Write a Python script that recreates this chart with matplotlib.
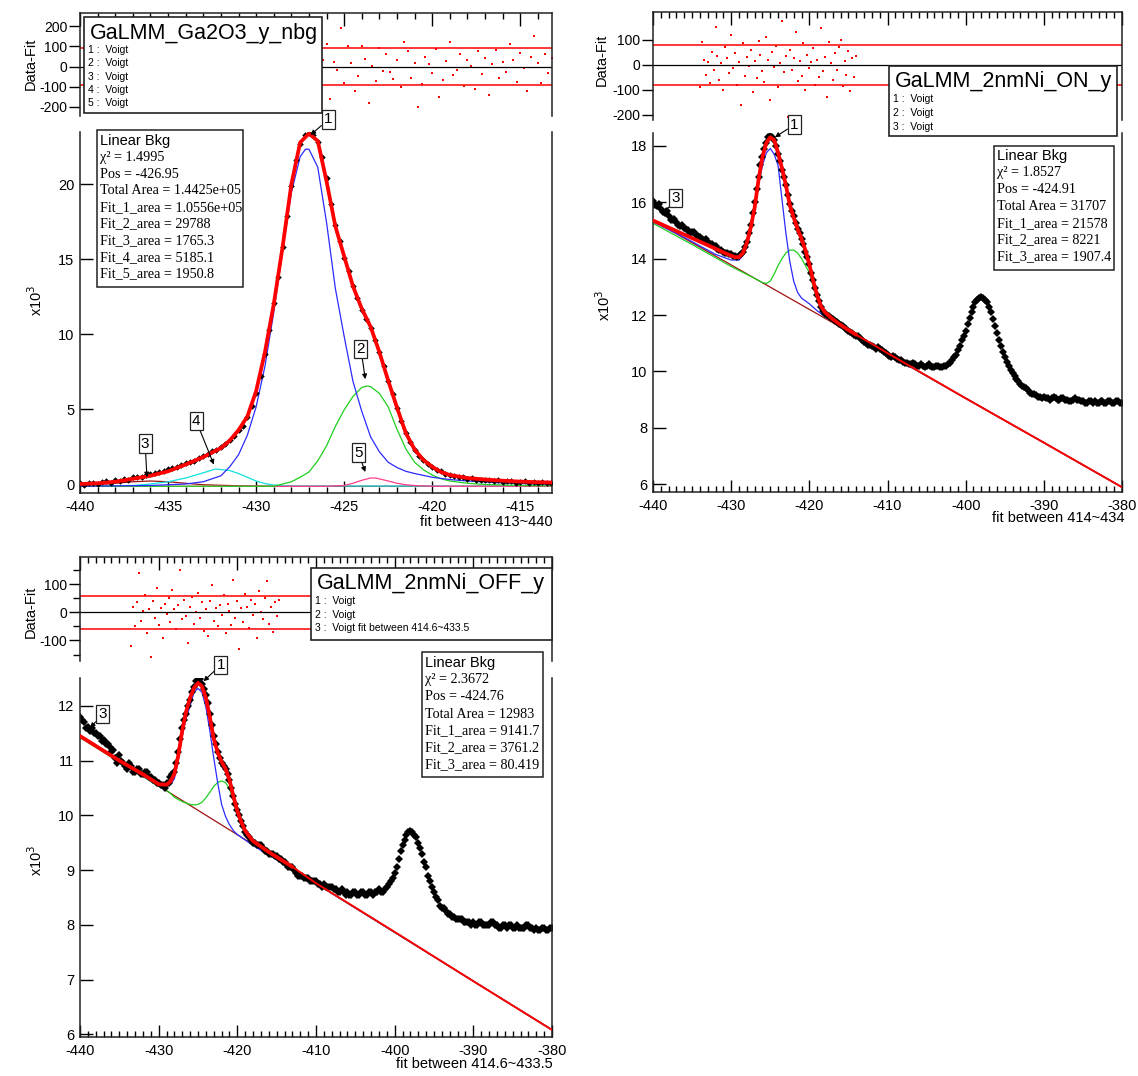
import numpy as np
import matplotlib
matplotlib.use("Agg")
from matplotlib import pyplot as plt
from matplotlib.patches import Rectangle
from matplotlib.ticker import MultipleLocator

plt.rcParams['font.family'] = ['Liberation Sans', 'DejaVu Sans']
plt.rcParams['axes.unicode_minus'] = False

W, H = 1138, 1076

# ---------------- panel 1 : GaLMM_Ga2O3_y_nbg (x10^3), points every 0.25 eV from -440 ----------------
p1_data_y = [0.1, -0.05, 0.05, 0.1, 0.0, 0.15, 0.2, 0.1, 0.25, 0.2, 0.35, 0.3, 0.45, 0.5, 0.45, 0.6,
             0.65, 0.75, 0.8, 0.85, 1.0, 1.1, 1.15, 1.3, 1.4, 1.5, 1.55, 1.75, 1.9, 2.0, 2.2, 2.3,
             2.5, 2.7, 2.95, 3.2, 3.6, 3.9, 4.5, 5.2, 6.1, 7.2, 8.7, 10.3, 12.1, 13.8, 15.8, 17.9,
             19.9, 21.6, 22.7, 23.3, 23.4, 23.3, 22.8, 21.8, 20.4, 18.7, 17.3, 16.2, 15.1, 14.2, 13.2, 12.4,
             11.6, 11.0, 10.4, 9.6, 8.8, 7.9, 6.9, 6.0, 5.1, 4.2, 3.4, 2.8, 2.3, 1.9, 1.6, 1.35,
             1.15, 0.95, 0.85, 0.7, 0.6, 0.55, 0.45, 0.45, 0.35, 0.4, 0.3, 0.3, 0.25, 0.3, 0.2, 0.25,
             0.15, 0.2, 0.2, 0.1, 0.15, 0.2, 0.1, 0.15, 0.1, 0.15, 0.05, 0.1]
p1_fit_x = [-440, -439, -438, -437, -436, -435, -434, -433, -432, -431.5, -431, -430.5, -430, -429.5,
            -429, -428.5, -428, -427.5, -427, -426.5, -426, -425.5, -425, -424.5, -424, -423.5, -423,
            -422.5, -422, -421.5, -421, -420.5, -420, -419.5, -419, -418, -417, -416, -415, -414, -413.2]
p1_fit_y = [0.0, 0.05, 0.15, 0.35, 0.55, 0.85, 1.3, 1.8, 2.4, 2.9, 3.6, 4.5, 6.2, 8.8,
            12.0, 15.8, 20.0, 22.8, 23.4, 22.9, 20.2, 17.2, 15.2, 13.2, 11.7, 10.5, 8.8,
            6.9, 5.1, 3.4, 2.3, 1.6, 1.15, 0.8, 0.6, 0.4, 0.3, 0.22, 0.16, 0.12, 0.1]
p1_bkg = -0.15
p1_c1_x = [-440, -436, -434, -433, -432, -431.5, -431, -430.5, -430, -429.5, -429, -428.5, -428, -427.5,
           -427.2, -427, -426.5, -426, -425.5, -425, -424.5, -424, -423.5, -423, -422.5, -422, -421.5,
           -421, -420, -419, -418, -416, -414, -413.2]
p1_c1_y = [0.0, 0.05, 0.15, 0.3, 0.7, 1.3, 2.1, 3.4, 5.3, 8.0, 11.6, 15.7, 19.6, 22.0,
           22.5, 22.5, 21.3, 17.6, 13.2, 10.0, 7.0, 5.0, 3.3, 2.3, 1.6, 1.25, 1.0,
           0.85, 0.6, 0.45, 0.35, 0.22, 0.15, 0.12]
p1_c2_x = [-440, -429, -428.5, -428, -427.5, -427, -426.5, -426, -425.5, -425, -424.5, -424, -423.7,
           -423.5, -423, -422.5, -422, -421.5, -421, -420.5, -420, -419.5, -419, -418, -417, -415, -413.2]
p1_c2_y = [0.0, 0.0, 0.15, 0.3, 0.6, 0.95, 1.7, 2.7, 4.0, 5.1, 6.0, 6.6, 6.7,
           6.65, 6.2, 5.3, 3.8, 2.5, 1.6, 1.1, 0.75, 0.5, 0.35, 0.2, 0.12, 0.05, 0.03]
p1_c3_x = [-440, -438, -437, -436, -435, -434, -433, -431, -429, -413.2]
p1_c3_y = [0.05, 0.2, 0.3, 0.35, 0.3, 0.2, 0.1, 0.03, 0.0, 0.0]
p1_c4_x = [-440, -437, -436, -435, -434, -433, -432.3, -431.5, -431, -430.5, -430, -429.5, -429, -428, -413.2]
p1_c4_y = [0.0, 0.05, 0.15, 0.3, 0.55, 0.9, 1.15, 1.05, 0.85, 0.6, 0.35, 0.18, 0.08, 0.02, 0.0]
p1_c5_x = [-440, -426, -425, -424.5, -424, -423.5, -423.2, -422.5, -422, -421.5, -421, -420, -413.2]
p1_c5_y = [0.0, 0.0, 0.05, 0.2, 0.4, 0.55, 0.55, 0.35, 0.2, 0.1, 0.05, 0.0, 0.0]
p1_res = [185, 30, 110, -160, 20, -15, 190, -80, 100, 15, -120, -45, 100, 35, -180, 5, -70, 90,
          -20, 60, -25, -60, 30, -100, 120, 75, -55, 15, -200, -85, 45, 10, -30, 85, -150, -65,
          25, 120, -40, -15, 60, -95, 30, 5, -110, 75, -35, 40, -140, 10, 80, -55, 20, -25,
          110, 30, -75, 65, -5, -120, 45, 150, 15, -80, 60, -30, 40]
p1_sigma = 90
p1_stats = ["χ² = 1.4995", "Pos = -426.95", "Total Area = 1.4425e+05", "Fit_1_area = 1.0556e+05",
            "Fit_2_area = 29788", "Fit_3_area = 1765.3", "Fit_4_area = 5185.1", "Fit_5_area = 1950.8"]

# ---------------- panel 2 : GaLMM_2nmNi_ON_y, points every 0.25 eV from -440 ----------------
p2_data_y = [16.05, 15.9, 15.85, 15.95, 15.75, 15.65, 15.6, 15.7,
             15.5, 15.35, 15.35, 15.4, 15.3, 15.2, 15.15, 15.2,
             15.1, 15.05, 15.0, 14.9, 14.95, 14.95, 14.85, 14.8,
             14.75, 14.7, 14.65, 14.7, 14.6, 14.5, 14.5, 14.45,
             14.45, 14.35, 14.3, 14.3, 14.25, 14.2, 14.2, 14.15,
             14.15, 14.1, 14.1, 14.05, 14.1, 14.15, 14.25, 14.4,
             14.6, 14.9, 15.2, 15.6, 16.0, 16.45, 16.9, 17.3,
             17.6, 17.9, 18.1, 18.3, 18.35, 18.3, 18.2, 18.0,
             17.7, 17.45, 17.15, 16.9, 16.6, 16.25, 15.95, 15.7,
             15.5, 15.25, 15.05, 14.9, 14.7, 14.5, 14.25, 14.05,
             13.8, 13.5, 13.25, 12.95, 12.7, 12.5, 12.3, 12.15,
             12.05, 12.0, 11.95, 11.9, 11.85, 11.8, 11.75, 11.7,
             11.65, 11.6, 11.55, 11.5, 11.45, 11.4, 11.35, 11.3,
             11.25, 11.25, 11.2, 11.1, 11.05, 11.0, 10.95, 10.95,
             10.9, 10.85, 10.8, 10.85, 10.8, 10.75, 10.7, 10.65,
             10.6, 10.55, 10.5, 10.55, 10.5, 10.45, 10.4, 10.4,
             10.35, 10.3, 10.3, 10.25, 10.25, 10.3, 10.25, 10.2,
             10.2, 10.25, 10.2, 10.15, 10.2, 10.25, 10.2, 10.15,
             10.15, 10.2, 10.2, 10.15, 10.15, 10.2, 10.2, 10.25,
             10.3, 10.4, 10.5, 10.6, 10.75, 10.9, 11.1, 11.25,
             11.45, 11.7, 11.9, 12.1, 12.3, 12.45, 12.55, 12.6,
             12.65, 12.6, 12.55, 12.45, 12.3, 12.1, 11.85, 11.6,
             11.35, 11.1, 10.9, 10.7, 10.5, 10.35, 10.2, 10.05,
             9.95, 9.85, 9.75, 9.65, 9.55, 9.5, 9.45, 9.4,
             9.35, 9.25, 9.2, 9.2, 9.15, 9.1, 9.1, 9.05,
             9.1, 9.05, 9.05, 9.0, 9.05, 9.1, 9.05, 9.0,
             9.0, 9.05, 9.05, 9.0, 9.0, 8.95, 8.95, 9.0,
             9.05, 9.0, 9.0, 8.95, 8.95, 8.9, 8.9, 8.95,
             8.95, 8.9, 8.95, 8.9, 8.9, 8.95, 8.95, 8.9,
             8.9, 8.95, 8.95, 8.9, 8.9, 8.95, 8.95, 8.9,
             8.9]
p2_fit_x = [-440, -438, -436, -434, -432, -431, -430, -429.5, -429, -428.5, -428, -427.5, -427, -426.5,
            -426, -425.5, -425, -424.5, -424, -423.5, -423, -422.5, -422, -421.5, -421, -420.5, -420,
            -419.5, -419, -418.5, -418, -417, -416, -415, -414, -412, -410, -400, -390, -380]
p2_fit_y = [15.35, 15.1, 14.85, 14.6, 14.35, 14.22, 14.1, 14.05, 14.05, 14.2, 14.55, 15.1, 15.8, 16.8,
            17.6, 18.1, 18.3, 18.2, 17.75, 17.2, 16.6, 15.9, 15.45, 15.05, 14.7, 14.3, 13.8,
            13.2, 12.7, 12.3, 12.1, 11.85, 11.65, 11.47, 11.3, 10.98, 10.65, 9.05, 7.48, 5.9]
p2_bkg_x = [-440, -380]
p2_bkg_y = [15.35, 5.9]
p2_c1_x = [-440, -436, -432, -430, -429, -428.5, -428, -427.5, -427, -426.5, -426, -425.5, -425, -424.5,
           -424, -423.5, -423, -422.5, -422, -421.5, -421, -420, -419, -418, -417, -416, -415, -414,
           -410, -400, -390, -380]
p2_c1_y = [15.3, 14.75, 14.15, 13.95, 13.95, 14.1, 14.45, 14.95, 15.75, 16.6, 17.3, 17.75, 17.9, 17.7,
           17.3, 16.1, 14.9, 13.9, 13.2, 12.8, 12.6, 12.4, 12.15, 11.95, 11.8, 11.6, 11.45, 11.28,
           10.63, 9.05, 7.48, 5.9]
p2_c2_x = [-440, -435, -430, -427, -426, -425.5, -425, -424.5, -424, -423.5, -423, -422.5, -422, -421.5,
           -421, -420.5, -420, -419.5, -419, -418.5, -418, -417, -416, -415, -414, -410, -400, -390, -380]
p2_c2_y = [15.25, 14.5, 13.72, 13.3, 13.15, 13.12, 13.2, 13.45, 13.75, 14.0, 14.2, 14.3, 14.3, 14.2,
           14.0, 13.75, 13.5, 13.0, 12.6, 12.3, 12.05, 11.8, 11.6, 11.45, 11.28, 10.63, 9.05, 7.48, 5.9]
p2_res = [-90, 90, 20, -40, 10, -75, 50, -20, 150, 35, -60, 5, -100, 70, 25, -35, 120, -15, 45, -80,
          10, -160, 85, -45, 30, -5, 60, -110, 15, -55, 95, 40, -25, -70, 110, 20, -140, 50, -10, 75,
          -90, 5, 175, -30, 35, -210, 60, -20, 25, 130, -65, 15, -45, 85, -100, 40, -15, 10, 65, -80,
          20, -50, 145, -25, 30, -130, 90, 5, -60, 45, -20, 70, 100, -85, 15, -40, 55, -105, 25, -50, 35]
p2_sigma = 80
p2_stats = ["χ² = 1.8527", "Pos = -424.91", "Total Area = 31707", "Fit_1_area = 21578",
            "Fit_2_area = 8221", "Fit_3_area = 1907.4"]

# ---------------- panel 3 : GaLMM_2nmNi_OFF_y, points every 0.25 eV from -440 ----------------
p3_data_y = [11.8, 11.75, 11.7, 11.6, 11.62, 11.55, 11.6, 11.5,
             11.5, 11.45, 11.45, 11.35, 11.38, 11.3, 11.3, 11.25,
             11.15, 11.2, 11.05, 10.95, 11.1, 11.0, 10.95, 10.9,
             10.85, 10.95, 10.9, 10.8, 10.8, 10.85, 10.85, 10.75,
             10.75, 10.8, 10.8, 10.7, 10.7, 10.65, 10.65, 10.6,
             10.6, 10.55, 10.55, 10.5, 10.6, 10.6, 10.7, 10.75,
             10.8, 10.95, 11.15, 11.4, 11.6, 11.75, 11.85, 12.0,
             12.1, 12.25, 12.35, 12.45, 12.45, 12.5, 12.4, 12.3,
             12.2, 12.05, 11.85, 11.65, 11.45, 11.3, 11.15, 11.05,
             10.95, 10.9, 10.85, 10.75, 10.65, 10.5, 10.35, 10.2,
             10.1, 10.0, 9.9, 9.8, 9.7, 9.65, 9.6, 9.55,
             9.5, 9.5, 9.45, 9.45, 9.45, 9.4, 9.35, 9.35,
             9.3, 9.3, 9.3, 9.25, 9.25, 9.2, 9.2, 9.15,
             9.15, 9.1, 9.05, 9.05, 9.05, 9.0, 8.95, 8.9,
             8.9, 8.9, 8.85, 8.85, 8.85, 8.8, 8.8, 8.8,
             8.8, 8.75, 8.75, 8.7, 8.75, 8.7, 8.7, 8.7,
             8.7, 8.65, 8.65, 8.6, 8.6, 8.65, 8.6, 8.55,
             8.6, 8.55, 8.55, 8.6, 8.6, 8.55, 8.55, 8.6,
             8.6, 8.55, 8.55, 8.6, 8.6, 8.55, 8.6, 8.6,
             8.65, 8.6, 8.6, 8.65, 8.7, 8.75, 8.8, 8.85,
             8.95, 9.05, 9.2, 9.35, 9.45, 9.55, 9.65, 9.7,
             9.72, 9.7, 9.65, 9.6, 9.5, 9.4, 9.3, 9.15,
             9.05, 8.9, 8.8, 8.7, 8.6, 8.5, 8.45, 8.35,
             8.3, 8.3, 8.25, 8.2, 8.2, 8.15, 8.15, 8.1,
             8.1, 8.1, 8.1, 8.05, 8.05, 8.05, 8.05, 8.0,
             8.05, 8.0, 8.0, 8.05, 8.05, 8.0, 8.0, 8.0,
             8.0, 8.05, 8.05, 8.0, 8.0, 7.95, 7.95, 8.0,
             8.0, 7.95, 8.0, 8.0, 7.95, 7.95, 8.0, 7.95,
             7.95, 7.95, 7.95, 8.0, 8.0, 7.95, 7.95, 7.9,
             7.95, 7.9, 7.9, 7.95, 7.95, 7.9, 7.9, 7.95,
             7.95]
p3_fit_x = [-440, -435, -432, -430, -429, -428.5, -428, -427.5, -427, -426.5, -426, -425.5, -425, -424.5,
            -424, -423.5, -423, -422.5, -422, -421.5, -421, -420.5, -420, -419.5, -419, -418.5, -418,
            -417, -416, -415, -414, -413, -410, -400, -390, -380]
p3_fit_y = [11.45, 11.0, 10.75, 10.57, 10.56, 10.62, 10.76, 11.1, 11.55, 11.9, 12.15, 12.33, 12.42, 12.36,
            12.15, 11.8, 11.4, 11.15, 10.98, 10.85, 10.65, 10.35, 10.08, 9.88, 9.72, 9.62, 9.53,
            9.43, 9.33, 9.24, 9.15, 9.06, 8.76, 7.87, 6.97, 6.08]
p3_bkg_x = [-440, -380]
p3_bkg_y = [11.43, 6.08]
p3_c1_x = [-440, -430, -429, -428.5, -428, -427.5, -427, -426.5, -426, -425.5, -425, -424.5, -424, -423.5,
           -423, -422.5, -422, -421.5, -421, -420.5, -420, -419, -418, -417, -415, -413, -380]
p3_c1_y = [11.43, 10.54, 10.53, 10.56, 10.67, 11.01, 11.45, 11.78, 12.0, 12.25, 12.32, 12.25, 11.98, 11.55,
           11.05, 10.6, 10.2, 9.98, 9.83, 9.72, 9.65, 9.55, 9.45, 9.36, 9.19, 9.02, 6.08]
p3_c2_x = [-440, -430, -429.5, -429, -428.5, -428, -427, -426, -425.5, -425, -424.5, -424, -423.5, -423,
           -422.5, -422, -421.5, -421, -420.5, -420, -419.5, -419, -418.5, -418, -417, -415, -413, -380]
p3_c2_y = [11.42, 10.53, 10.5, 10.46, 10.4, 10.33, 10.25, 10.2, 10.19, 10.2, 10.24, 10.32, 10.42, 10.53,
           10.6, 10.63, 10.6, 10.48, 10.28, 10.05, 9.85, 9.68, 9.57, 9.5, 9.4, 9.2, 9.02, 6.08]
p3_res = [-120, 20, -50, 35, 140, -30, 5, 60, -75, 10, -160, 40, -20, 85, -45, 15, -90, 30, -5, 50,
          -35, 80, 10, -60, 25, 150, -25, 45, -15, -110, 20, 55, -40, 0, 70, -20, 35, -65, 10, -85,
          40, 95, -30, 15, -50, 25, -10, 60, -75, 30, 5, -45, 115, -20, 40, -130, 15, -35, 65, 20,
          -55, 45, -10, 30, -90, 75, 0, -25, 50, 110, -40, 20, -70, 35, -15, 45]
p3_sigma = 58
p3_stats = ["χ² = 2.3672", "Pos = -424.76", "Total Area = 12983", "Fit_1_area = 9141.7",
            "Fit_2_area = 3761.2", "Fit_3_area = 80.419"]

RED = '#ff0000'
BLUE = '#2b2bff'
GREEN = '#1fcf1f'
CYAN = '#10e0e0'
PINK = '#ff3d8b'
BROWN = '#a01010'


def rect(l, t, r, b):
    return [l / W, 1 - b / H, (r - l) / W, (b - t) / H]


def fx(x):
    return x / W


def fy(y):
    return 1 - y / H


fig = plt.figure(figsize=(W / 100, H / 100), dpi=100)


def style_spines(ax):
    for s in ax.spines.values():
        s.set_linewidth(1.1)
        s.set_color('#222222')


def residual_axes(box, xlim, ylim, xmajor, yticks, yminor, res_x, res_y, sigma):
    ax = fig.add_axes(rect(*box))
    ax.plot(res_x, res_y, 's', color=RED, ms=1.6, mew=0)
    ax.axhline(0, color='black', lw=0.9)
    ax.axhline(sigma, color=RED, lw=1.1)
    ax.axhline(-sigma, color=RED, lw=1.1)
    ax.set_xlim(xlim)
    ax.set_ylim(ylim)
    style_spines(ax)
    ax.spines['bottom'].set_visible(False)
    ax.xaxis.set_ticks_position('top')
    ax.xaxis.set_major_locator(MultipleLocator(xmajor))
    ax.xaxis.set_minor_locator(MultipleLocator(1))
    ax.tick_params(axis='x', which='major', direction='in', length=9, width=1, labeltop=False)
    ax.tick_params(axis='x', which='minor', direction='in', length=4, width=1)
    ax.set_yticks(yticks)
    if yminor:
        ax.yaxis.set_minor_locator(MultipleLocator(yminor))
        ax.tick_params(axis='y', which='minor', direction='out', length=5, width=1)
    ax.tick_params(axis='y', which='major', direction='out', length=8, width=1, labelsize=10, pad=1)
    return ax


def main_axes(box, xlim, ylim, xmajor, ymajor):
    ax = fig.add_axes(rect(*box))
    ax.set_xlim(xlim)
    ax.set_ylim(ylim)
    style_spines(ax)
    ax.spines['top'].set_visible(False)
    ax.xaxis.set_major_locator(MultipleLocator(xmajor))
    ax.xaxis.set_minor_locator(MultipleLocator(1))
    ax.yaxis.set_major_locator(MultipleLocator(ymajor))
    ax.tick_params(axis='x', which='major', direction='in', length=9, width=1, labelsize=10.5, pad=5)
    ax.tick_params(axis='x', which='minor', direction='in', length=4, width=1)
    ax.tick_params(axis='y', which='major', direction='in', length=9, width=1, labelsize=10.5, pad=4)
    return ax


def legend_box(l, t, r, b, title, items, title_y, item_y0, item_dy, title_size=15.5):
    fig.add_artist(Rectangle((fx(l), fy(b)), fx(r - l), (b - t) / H, transform=fig.transFigure,
                             facecolor='white', edgecolor='#222222', lw=1.2, zorder=5))
    fig.text(fx(l + 6), fy(title_y), title, fontsize=title_size, va='center', ha='left', zorder=6)
    for i, it in enumerate(items):
        fig.text(fx(l + 4), fy(item_y0 + i * item_dy), it, fontsize=7.5, va='center', ha='left', zorder=6)


def stats_box(l, t, r, b, lines, y0, dy):
    fig.add_artist(Rectangle((fx(l), fy(b)), fx(r - l), (b - t) / H, transform=fig.transFigure,
                             facecolor='white', edgecolor='#222222', lw=1.1, zorder=5))
    fig.text(fx(l + 3), fy(y0), "Linear Bkg", fontsize=10.5, va='center', ha='left', zorder=6)
    for i, ln in enumerate(lines):
        fig.text(fx(l + 3), fy(y0 + (i + 1) * dy), ln, fontsize=10.2, va='center', ha='left',
                 family=['Liberation Serif', 'DejaVu Serif'], zorder=6)


def tag(ax, label, xy, xytext):
    ax.annotate(label, xy=xy, xytext=xytext, fontsize=11, ha='center', va='center',
                annotation_clip=False, zorder=8,
                bbox=dict(boxstyle='square,pad=0.15', fc='white', ec='#222222', lw=0.9),
                arrowprops=dict(arrowstyle='-|>', color='black', lw=0.8, mutation_scale=7,
                                shrinkA=0, shrinkB=0))


def draw_fit(ax, fit_x, fit_y, thick_end):
    fit_x = np.array(fit_x)
    fit_y = np.array(fit_y)
    thick = fit_x <= thick_end
    thin = fit_x >= thick_end
    ax.plot(fit_x[thin], fit_y[thin], color=RED, lw=1.4, zorder=4)
    ax.plot(fit_x[thick], fit_y[thick], color=RED, lw=2.7, zorder=4, solid_capstyle='round')


# ===== panel 1 =====
x1 = np.arange(len(p1_data_y)) * 0.25 - 440
r1x = np.arange(len(p1_res)) * 0.2 - 426.4
residual_axes((80, 13, 552, 116), (-440, -413.2), (-245, 265), 5, [-200, -100, 0, 100, 200], None,
              r1x, p1_res, p1_sigma)
ax1 = main_axes((80, 132, 552, 493), (-440, -413.2), (-0.6, 23.5), 5, 5)
ax1.plot(p1_c3_x, np.array(p1_c3_y) + p1_bkg, color=BROWN, lw=0.9)
ax1.plot(p1_c4_x, np.array(p1_c4_y) + p1_bkg, color=CYAN, lw=0.9)
ax1.plot(p1_c5_x, np.array(p1_c5_y) + p1_bkg, color=PINK, lw=0.9)
ax1.plot(p1_c2_x, np.array(p1_c2_y) + p1_bkg, color=GREEN, lw=0.9)
ax1.plot(p1_c1_x, np.array(p1_c1_y) + p1_bkg, color=BLUE, lw=0.9)
ax1.plot(x1, p1_data_y, 'D', color='black', ms=3.3, mew=0)
draw_fit(ax1, p1_fit_x, p1_fit_y, -413.2)
tag(ax1, '1', (-426.9, 23.3), (-425.9, 24.35))
tag(ax1, '2', (-423.8, 7.0), (-424.05, 9.0))
tag(ax1, '5', (-423.8, 0.8), (-424.2, 2.1))
tag(ax1, '4', (-432.4, 1.3), (-433.4, 4.2))
tag(ax1, '3', (-436.2, 0.45), (-436.3, 2.7))
legend_box(84, 17, 322, 113, "GaLMM_Ga2O3_y_nbg", ["1 :  Voigt", "2 :  Voigt", "3 :  Voigt",
                                                     "4 :  Voigt", "5 :  Voigt"], 33, 50, 13.3)
stats_box(97, 130, 243, 287, p1_stats, 141, 16.6)
fig.text(fx(31), fy(64), "Data-Fit", rotation=90, fontsize=10.5, ha='center', va='center')
fig.text(fx(36), fy(300), r"x10$^3$", rotation=90, fontsize=10.5, ha='center', va='center')
fig.text(fx(553), fy(522), "fit between 413~440", fontsize=10.5, ha='right', va='center')

# ===== panel 2 =====
x2 = np.arange(len(p2_data_y)) * 0.25 - 440
r2x = np.arange(len(p2_res)) * 0.25 - 434
residual_axes((653, 12, 1122, 120), (-440, -380), (-222, 211), 10, [-200, -100, 0, 100], None,
              r2x, p2_res, p2_sigma)
ax2 = main_axes((653, 133, 1122, 492), (-440, -380), (5.73, 18.45), 10, 2)
ax2.plot(p2_bkg_x, p2_bkg_y, color=BROWN, lw=0.9)
ax2.plot(p2_c2_x, p2_c2_y, color=GREEN, lw=0.9)
ax2.plot(p2_c1_x, p2_c1_y, color=BLUE, lw=0.9)
ax2.plot(x2, p2_data_y, 'D', color='black', ms=3.8, mew=0)
draw_fit(ax2, p2_fit_x, p2_fit_y, -414)
tag(ax2, '1', (-424.4, 18.3), (-421.9, 18.75))
tag(ax2, '3', (-438.6, 15.6), (-437.1, 16.15))
legend_box(889, 66, 1117, 136, "GaLMM_2nmNi_ON_y", ["1 :  Voigt", "2 :  Voigt", "3 :  Voigt"], 82, 99, 14)
stats_box(994, 146, 1114, 270, p2_stats, 156, 16.8)
fig.text(fx(602), fy(60), "Data-Fit", rotation=90, fontsize=10.5, ha='center', va='center')
fig.text(fx(604), fy(305), r"x10$^3$", rotation=90, fontsize=10.5, ha='center', va='center')
fig.text(fx(1125), fy(518), "fit between 414~434", fontsize=10.5, ha='right', va='center')

# ===== panel 3 =====
x3 = np.arange(len(p3_data_y)) * 0.25 - 440
r3x = np.arange(len(p3_res)) * 0.25 - 433.5
residual_axes((80, 557, 552, 661), (-440, -380), (-173, 196), 10, [-100, 0, 100], 50,
              r3x, p3_res, p3_sigma)
ax3 = main_axes((80, 678, 552, 1037), (-440, -380), (5.95, 12.51), 10, 1)
ax3.plot(p3_bkg_x, p3_bkg_y, color=BROWN, lw=0.9)
ax3.plot(p3_c2_x, p3_c2_y, color=GREEN, lw=0.9)
ax3.plot(p3_c1_x, p3_c1_y, color=BLUE, lw=0.9)
ax3.plot(x3, p3_data_y, 'D', color='black', ms=3.8, mew=0)
draw_fit(ax3, p3_fit_x, p3_fit_y, -413)
tag(ax3, '1', (-424.3, 12.45), (-422.1, 12.75))
tag(ax3, '3', (-438.7, 11.6), (-437.1, 11.85))
legend_box(311, 568, 552, 640, "GaLMM_2nmNi_OFF_y",
           ["1 :  Voigt", "2 :  Voigt", "3 :  Voigt fit between 414.6~433.5"], 584, 601, 13.5)
stats_box(422, 652, 543, 777, p3_stats, 663, 17)
fig.text(fx(31), fy(612), "Data-Fit", rotation=90, fontsize=10.5, ha='center', va='center')
fig.text(fx(36), fy(860), r"x10$^3$", rotation=90, fontsize=10.5, ha='center', va='center')
fig.text(fx(553), fy(1064), "fit between 414.6~433.5", fontsize=10.5, ha='right', va='center')

fig.savefig("out.png", dpi=100)
